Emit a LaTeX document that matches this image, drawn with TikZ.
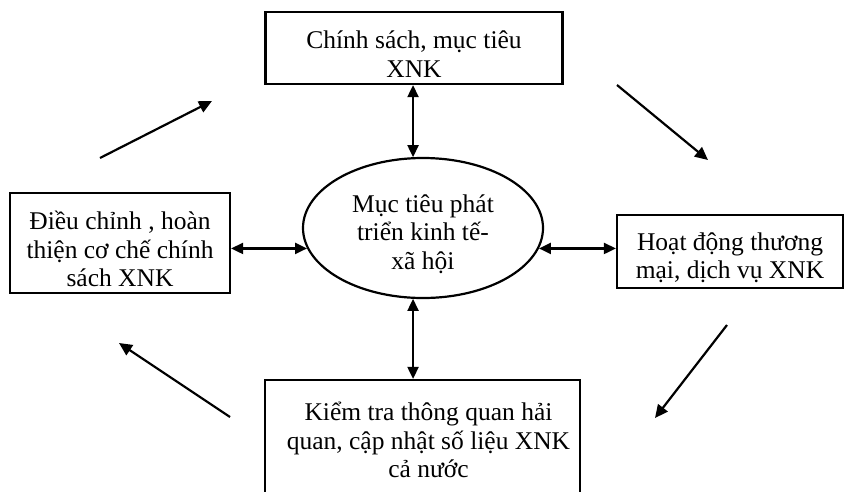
\documentclass[tikz,border=0pt]{standalone}
\usepackage{fontspec}
\setmainfont{Liberation Serif}
\usetikzlibrary{arrows.meta,shapes.geometric}
\begin{document}
\begin{tikzpicture}[x=1pt,y=-1pt,
  txt/.style={align=center,font=\fontsize{25.5}{28.5}\selectfont,inner sep=0pt},
  box/.style={draw,line width=2.2pt,rectangle,inner sep=0pt},
  oval/.style={draw,line width=2.2pt,ellipse,inner sep=0pt},
  dbl/.style={line width=2.2pt,{Triangle[length=12pt,width=11pt]}-{Triangle[length=12pt,width=11pt]}},
  sgl/.style={line width=2.2pt,-{Triangle[length=13pt,width=12pt]}}
]
\useasboundingbox (0,0) rectangle (845,491);
\clip (0,0) rectangle (845,491);
\node[box,minimum width=297pt,minimum height=72pt] (top) at (414,48) {};
\node[txt] (toptxt) at ([yshift=-6pt]top.center) {Chính sách, mục tiêu\\XNK};
\node[oval,minimum width=240pt,minimum height=140pt] (ell) at (423,228) {};
\node[txt] (elltxt) at ([yshift=-6pt]ell.center) {Mục tiêu phát\\triển kinh tế-\\xã hội};
\node[box,minimum width=220pt,minimum height=100pt] (left) at (120,243) {};
\node[txt] (lefttxt) at ([yshift=-6pt]left.center) {Điều chỉnh , hoàn\\thiện cơ chế chính\\sách XNK};
\node[box,minimum width=226pt,minimum height=73pt] (right) at (730,251.5) {};
\node[txt] (righttxt) at ([yshift=-6pt]right.center) {Hoạt động thương\\mại, dịch vụ XNK};
\node[box,minimum width=315pt,minimum height=120pt] (bot) at (422.5,440) {};
\node[txt] (bottxt) at ([xshift=6pt]bot.center) {Kiểm tra thông quan hải\\quan, cập nhật số liệu XNK\\cả nước};

\draw[dbl] (top.south -| ell.98) -- (ell.98);
\draw[dbl] (ell.-98) -- (ell.-98 |- bot.north);
\draw[dbl] (left.east |- ell.190) -- (ell.190);
\draw[dbl] (ell.-10) -- (ell.-10 -| right.west);

\coordinate (a1s) at (100,158); \coordinate (a1e) at (212,101);
\coordinate (a2s) at (617,85);  \coordinate (a2e) at (708,160);
\coordinate (a3s) at (230,417); \coordinate (a3e) at (119,343);
\coordinate (a4s) at (727,325); \coordinate (a4e) at (655,418);
\draw[sgl] (a1s) -- (a1e);
\draw[sgl] (a2s) -- (a2e);
\draw[sgl] (a3s) -- (a3e);
\draw[sgl] (a4s) -- (a4e);
\end{tikzpicture}
\end{document}
